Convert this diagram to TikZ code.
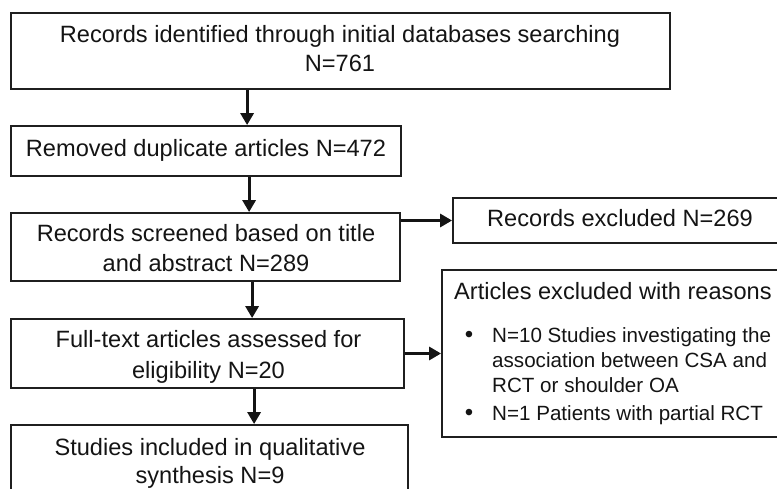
\documentclass[tikz,border=0pt]{standalone}
\usepackage{fontspec}
\setmainfont{Liberation Sans}
\usetikzlibrary{arrows.meta}
\begin{document}
\begin{tikzpicture}[x=1pt,y=-1pt,
  box/.style={draw=black!88, line width=1.8pt, rectangle, inner sep=0pt},
  txt/.style={anchor=base, inner sep=0pt, font=\fontsize{23.6}{28}\selectfont, text=black!92},
  txtl/.style={txt, anchor=base west},
  item/.style={anchor=base west, inner sep=0pt, font=\fontsize{20.6}{25}\selectfont, text=black!92},
  dot/.style={item, anchor=center, font=\fontsize{24}{25}\selectfont},
  flow/.style={line width=3pt, draw=black!92, -{Triangle[length=12pt,width=13pt]}}]
\useasboundingbox (0,0) rectangle (777,489);
\clip (0,0) rectangle (777,489);

% boxes of the main column
\node[box, minimum width=659pt, minimum height=76pt] (box1) at (340.5,51) {};
\node[box, minimum width=390pt, minimum height=50pt] (box2) at (206,151) {};
\node[box, minimum width=389pt, minimum height=68pt] (box3) at (205.5,247) {};
\node[box, minimum width=393pt, minimum height=69pt] (box4) at (207.5,353.5) {};
\node[box, minimum width=397pt, minimum height=69pt] (box5) at (209.5,459.5) {};
% boxes on the right
\node[box, minimum width=334pt, minimum height=45pt] (excl) at (620,220.5) {};
\node[box, minimum width=348pt, minimum height=167pt] (reasons) at (616,353.5) {};

% texts
\node[txt] (t1a) at (340,43) {Records identified through initial databases searching};
\node[txt] (t1b) at (340,72) {N=761};
\node[txt] (t2) at (206,157) {Removed duplicate articles N=472};
\node[txt] (t3a) at (206,242) {Records screened based on title};
\node[txt] (t3b) at (206,272) {and abstract N=289};
\node[txt] (t4a) at (208.5,348) {Full-text articles assessed for};
\node[txt] (t4b) at (208.5,378) {eligibility N=20};
\node[txt] (t5a) at (210,455) {Studies included in qualitative};
\node[txt] (t5b) at (210,483) {synthesis N=9};
\node[txt] (t6) at (620,227) {Records excluded N=269};
\node[txtl] (t7) at (454,300) {Articles excluded with reasons};
\node[dot] (d1) at (469,336.5) {\textbullet};
\node[item] (i1a) at (492,342) {N=10 Studies investigating the};
\node[item] (i1b) at (492,367) {association between CSA and};
\node[item] (i1c) at (492,392) {RCT or shoulder OA};
\node[dot] (d2) at (469,414.5) {\textbullet};
\node[item] (i2) at (492,420) {N=1 Patients with partial RCT};

% connectors
\draw[flow] ([xshift=237pt]box1.south west) -- ([xshift=237pt]box2.north west);
\draw[flow] ([xshift=239pt]box2.south west) -- ([xshift=239pt]box3.north west);
\draw[flow] ([xshift=242pt]box3.south west) -- ([xshift=242pt]box4.north west);
\draw[flow] ([xshift=244pt]box4.south west) -- ([xshift=244pt]box5.north west);
\draw[flow] (box3.east |- excl.west) -- (excl.west);
\draw[flow] (box4.east) -- (box4.east -| reasons.west);
\end{tikzpicture}
\end{document}
